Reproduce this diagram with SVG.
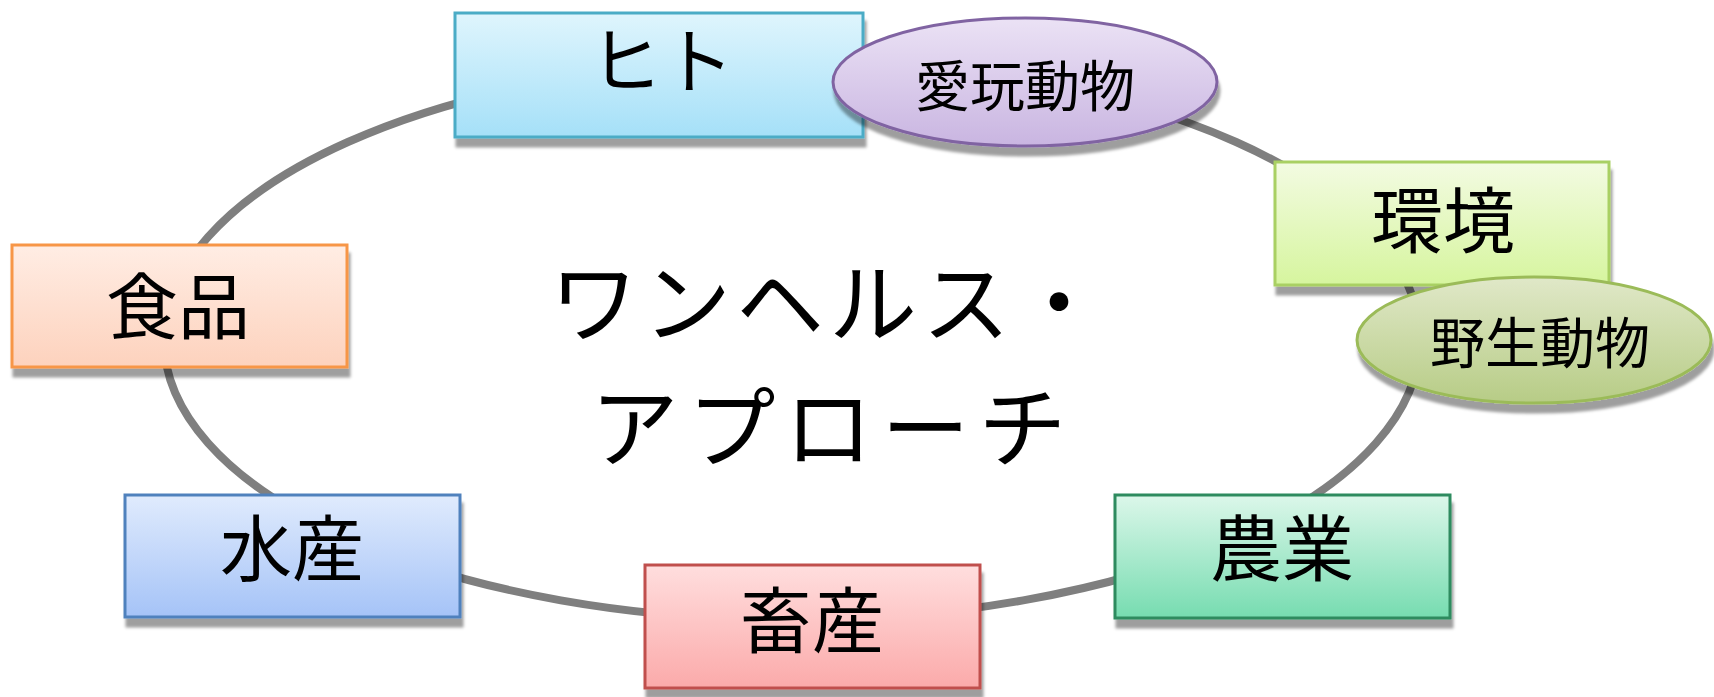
<svg xmlns="http://www.w3.org/2000/svg" width="1714" height="697" viewBox="0 0 1714 697">
<defs>
<filter id="sh" x="-10%" y="-10%" width="125%" height="140%">
<feDropShadow dx="2" dy="9" stdDeviation="1.5" flood-color="#000" flood-opacity="0.38"/>
</filter>
<linearGradient id="gHito" x1="0" y1="0" x2="0" y2="1"><stop offset="0" stop-color="#dff5fd"/><stop offset="1" stop-color="#a5e0f8"/></linearGradient>
<linearGradient id="gKankyo" x1="0" y1="0" x2="0" y2="1"><stop offset="0" stop-color="#f3fbe2"/><stop offset="1" stop-color="#d6f59e"/></linearGradient>
<linearGradient id="gShoku" x1="0" y1="0" x2="0" y2="1"><stop offset="0" stop-color="#ffede4"/><stop offset="1" stop-color="#fdd2bd"/></linearGradient>
<linearGradient id="gSui" x1="0" y1="0" x2="0" y2="1"><stop offset="0" stop-color="#e0ebfd"/><stop offset="1" stop-color="#a5c3f7"/></linearGradient>
<linearGradient id="gChiku" x1="0" y1="0" x2="0" y2="1"><stop offset="0" stop-color="#ffdede"/><stop offset="1" stop-color="#fbaaaa"/></linearGradient>
<linearGradient id="gNou" x1="0" y1="0" x2="0" y2="1"><stop offset="0" stop-color="#dcf7ea"/><stop offset="1" stop-color="#76dcb0"/></linearGradient>
<linearGradient id="gAigan" x1="0" y1="0" x2="0" y2="1"><stop offset="0" stop-color="#ebe2f5"/><stop offset="1" stop-color="#c9b5e1"/></linearGradient>
<linearGradient id="gYasei" x1="0" y1="0" x2="0" y2="1"><stop offset="0" stop-color="#e0e8c8"/><stop offset="1" stop-color="#b7cc86"/></linearGradient>
</defs>
<style>
.box{stroke-width:3;filter:url(#sh)}
.lbl{font-family:"Noto Sans CJK JP","Noto Sans CJK SC",sans-serif;font-size:72px;fill:#000;text-anchor:middle}
.sm{font-size:55px}
.ctr{font-size:88px}
.ring{fill:none;stroke:#7f7f7f;stroke-width:8}
</style>
<g id="connectors">
<ellipse class="ring" cx="792" cy="340" rx="628" ry="280"/>
</g>
<g id="hito">
<rect class="box" x="455" y="13" width="408" height="124" fill="url(#gHito)" stroke="#4bacc6"/>
<text class="lbl" x="662" y="87">ヒト</text>
</g>
<g id="aigan">
<ellipse class="box" cx="1025" cy="82" rx="192" ry="64" fill="url(#gAigan)" stroke="#8064a2"/>
<text class="lbl sm" x="1025" y="106">愛玩動物</text>
</g>
<g id="kankyo">
<rect class="box" x="1275" y="162" width="334" height="123" fill="url(#gKankyo)" stroke="#a9d063"/>
<text class="lbl" x="1443" y="247">環境</text>
</g>
<g id="yasei">
<ellipse class="box" cx="1534" cy="340" rx="177" ry="63" fill="url(#gYasei)" stroke="#9bbb59"/>
<text class="lbl sm" x="1540" y="363">野生動物</text>
</g>
<g id="shokuhin">
<rect class="box" x="12" y="245" width="335" height="122" fill="url(#gShoku)" stroke="#f79646"/>
<text class="lbl" x="178" y="333">食品</text>
</g>
<g id="suisan">
<rect class="box" x="125" y="495" width="335" height="122" fill="url(#gSui)" stroke="#4f81bd"/>
<text class="lbl" x="292" y="575">水産</text>
</g>
<g id="chikusan">
<rect class="box" x="645" y="565" width="335" height="123" fill="url(#gChiku)" stroke="#c0504d"/>
<text class="lbl" x="812" y="647">畜産</text>
</g>
<g id="nougyou">
<rect class="box" x="1115" y="495" width="335" height="123" fill="url(#gNou)" stroke="#2e8b5e"/>
<text class="lbl" x="1282" y="575">農業</text>
</g>
<g id="center">
<text class="lbl ctr" x="829" y="335" letter-spacing="5">ワンヘルス・</text>
<text class="lbl ctr" x="833" y="460" letter-spacing="9">アプローチ</text>
</g>
</svg>
